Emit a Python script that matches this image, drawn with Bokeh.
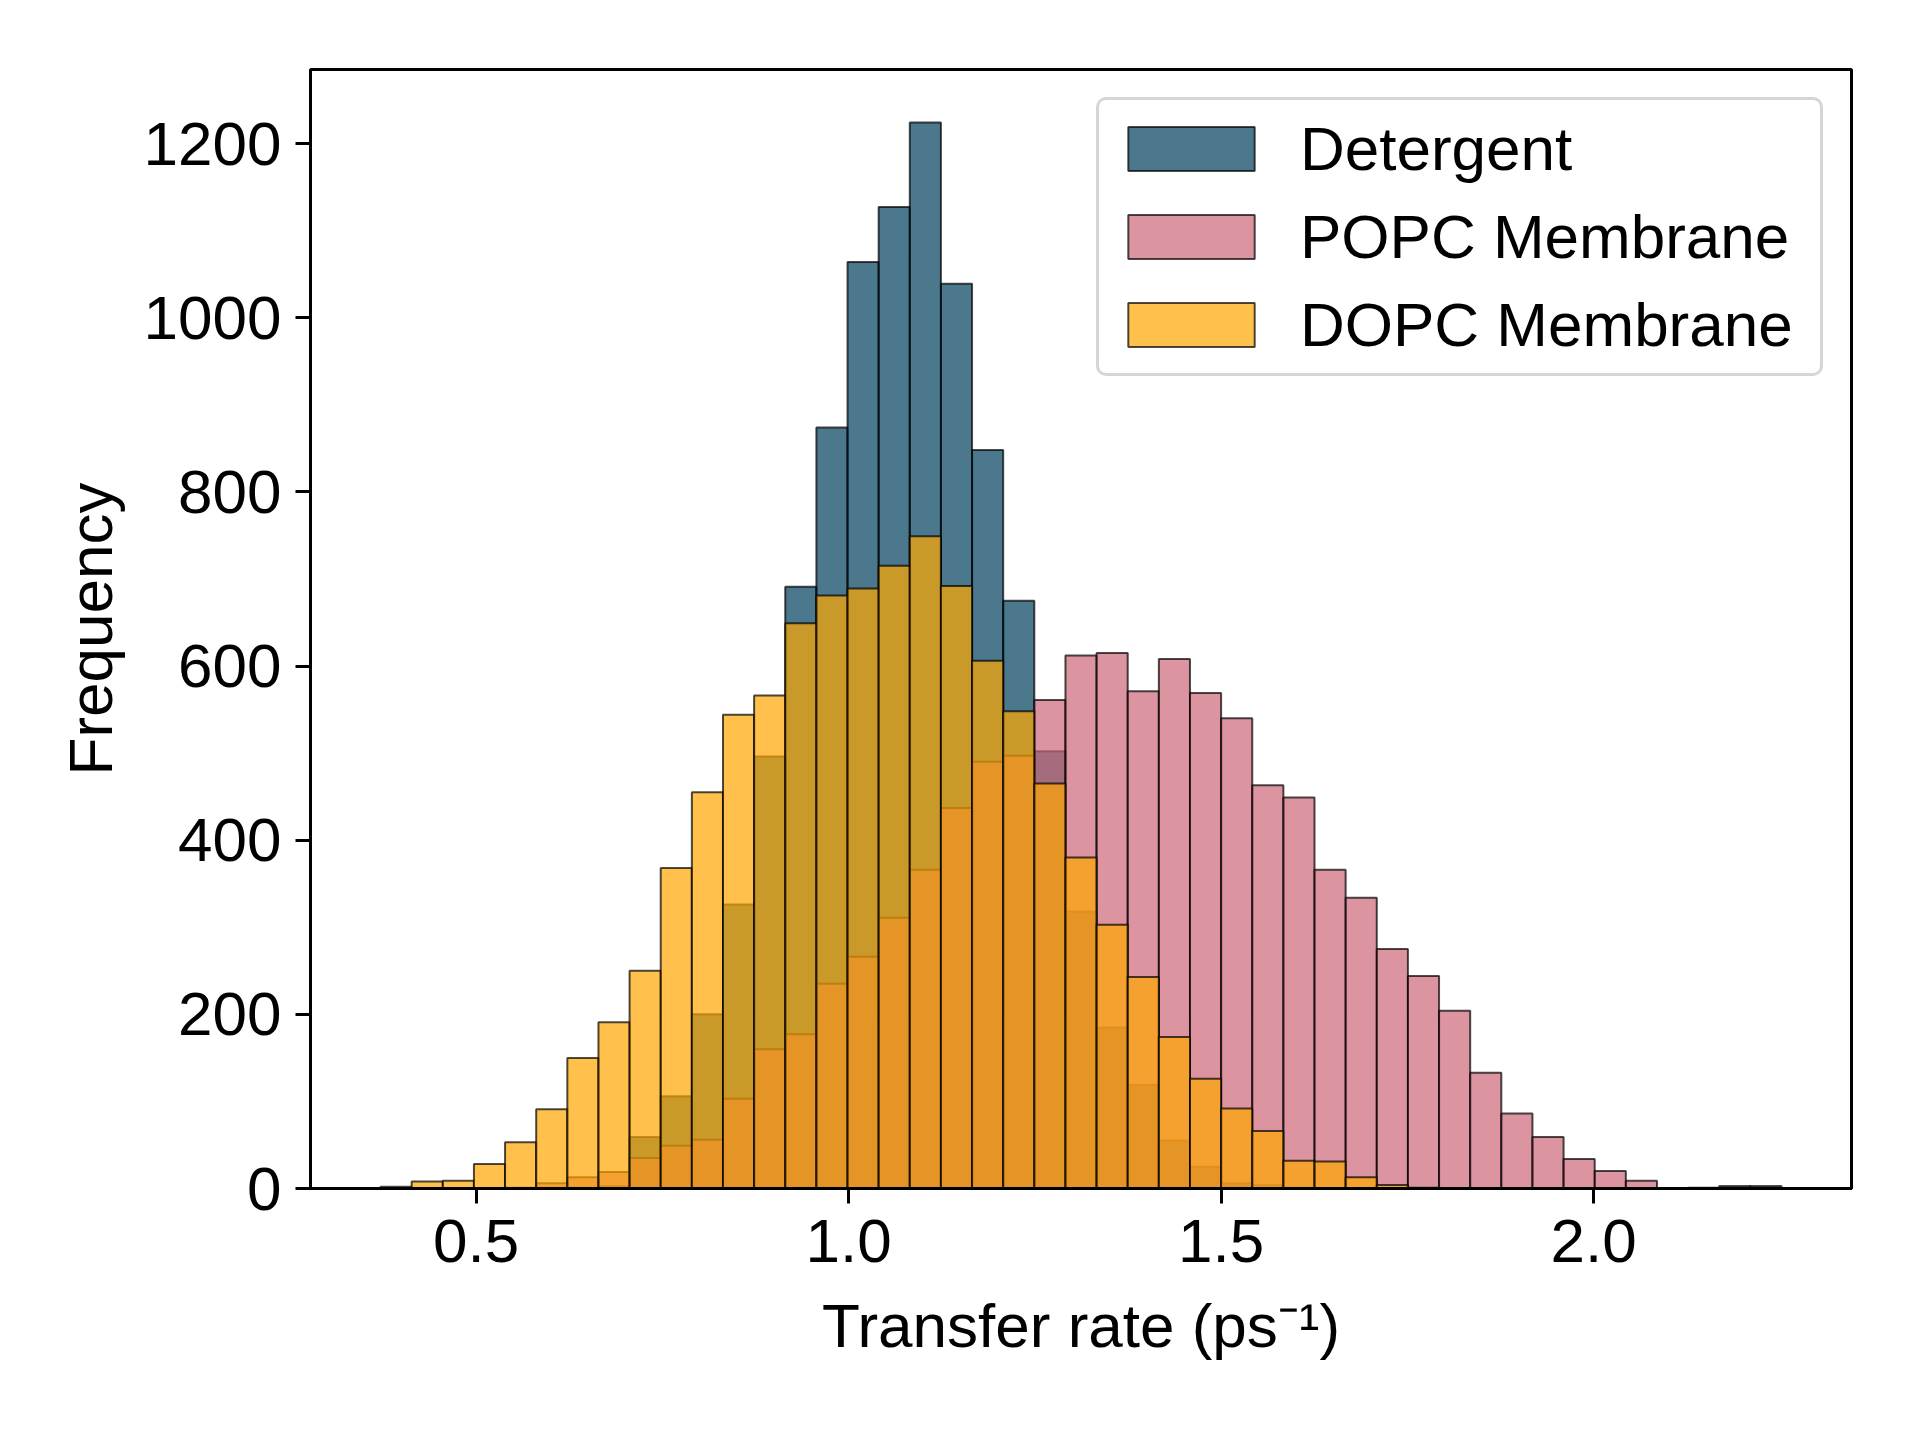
from bokeh.plotting import figure
from bokeh.models import FixedTicker, Range1d, Legend
from bokeh.embed import file_html
from bokeh.resources import INLINE

# ---- data (45 shared histogram bins) ----
bin_start = 0.3716
bin_width = 0.04179
n_bins = 45

detergent = [0, 0, 0, 0, 0, 1, 1, 3, 59, 106, 200, 326, 496, 691, 874, 1064,
             1127, 1224, 1039, 848, 675, 502, 318, 185, 119, 55, 25, 6, 4, 1,
             0, 0, 0, 0, 0, 0, 0, 0, 0, 0, 0, 0, 0, 0, 0]
popc = [0, 0, 0, 0, 1, 6, 13, 19, 35, 49, 56, 103, 160, 177, 235, 266,
        311, 366, 437, 490, 497, 561, 612, 615, 571, 608, 569, 540, 463, 449,
        366, 334, 275, 244, 204, 133, 86, 59, 34, 20, 9, 0, 1, 3, 3]
dopc = [2, 8, 9, 28, 53, 91, 150, 191, 250, 368, 455, 544, 566, 649, 681, 689,
        715, 749, 692, 606, 548, 465, 380, 303, 243, 174, 126, 92, 66, 32,
        31, 13, 4, 1, 0, 0, 0, 0, 0, 0, 0, 0, 0, 0, 0]

series_names = ["Detergent", "POPC Membrane", "DOPC Membrane"]
series_colors = ["#003f5c", "#cc6677", "#ffa600"]

x_ticks = [0.5, 1.0, 1.5, 2.0]
x_tick_labels = ["0.5", "1.0", "1.5", "2.0"]
y_ticks = [0, 200, 400, 600, 800, 1000, 1200]
y_tick_labels = ["0", "200", "400", "600", "800", "1000", "1200"]

edges = [bin_start + i * bin_width for i in range(n_bins + 1)]
lefts = edges[:-1]
rights = edges[1:]

FONT = "Liberation Sans"
FS = "62px"

p = figure(
    frame_width=1541, frame_height=1119,
    min_border_left=310, min_border_right=53,
    min_border_top=69, min_border_bottom=236,
    x_range=Range1d(0.2776, 2.3461), y_range=Range1d(0, 1285),
    output_backend="svg", toolbar_location=None,
    background_fill_color="white", border_fill_color="white",
)

for vals, name, col in zip([detergent, popc, dopc], series_names, series_colors):
    p.quad(left=lefts, right=rights, bottom=0, top=vals,
           fill_color=col, fill_alpha=0.7,
           line_color="black", line_alpha=0.7, line_width=2,
           legend_label=name)

p.xgrid.visible = False
p.ygrid.visible = False
p.outline_line_color = "black"
p.outline_line_width = 3
p.outline_line_alpha = 1.0

p.xaxis.ticker = FixedTicker(ticks=x_ticks)
p.xaxis.major_label_overrides = {t: l for t, l in zip(x_ticks, x_tick_labels)}
p.yaxis.ticker = FixedTicker(ticks=y_ticks)
p.yaxis.major_label_overrides = {t: l for t, l in zip(y_ticks, y_tick_labels)}

for ax in (p.xaxis, p.yaxis):
    ax.axis_line_width = 3
    ax.axis_line_color = "black"
    ax.major_tick_line_width = 3
    ax.major_tick_line_color = "black"
    ax.major_tick_out = 15
    ax.major_tick_in = 0
    ax.minor_tick_line_color = None
    ax.major_label_text_font = FONT
    ax.major_label_text_font_size = FS
    ax.major_label_text_color = "black"
    ax.axis_label_text_font = FONT
    ax.axis_label_text_font_size = FS
    ax.axis_label_text_font_style = "normal"
    ax.axis_label_text_color = "black"

p.xaxis.major_label_standoff = 16
p.yaxis.major_label_standoff = 14
p.xaxis.axis_label = "Transfer rate (ps\u207b\u00b9)"
p.yaxis.axis_label = "Frequency"
p.xaxis.axis_label_standoff = 26
p.yaxis.axis_label_standoff = 16

lg = p.legend[0]
lg.location = "top_right"
lg.margin = 28
lg.padding = 13
lg.glyph_width = 158
lg.glyph_height = 55
lg.label_standoff = 30
lg.label_width = 507
lg.spacing = 17
lg.label_text_font = FONT
lg.label_text_font_size = FS
lg.label_text_color = "black"
lg.border_line_color = "#cccccc"
lg.border_line_width = 3
lg.border_line_alpha = 0.8
lg.background_fill_color = "white"
lg.background_fill_alpha = 0.8
if "border_radius" in Legend.properties():
    lg.border_radius = 10

open("out.html", "w").write(file_html(p, INLINE))
